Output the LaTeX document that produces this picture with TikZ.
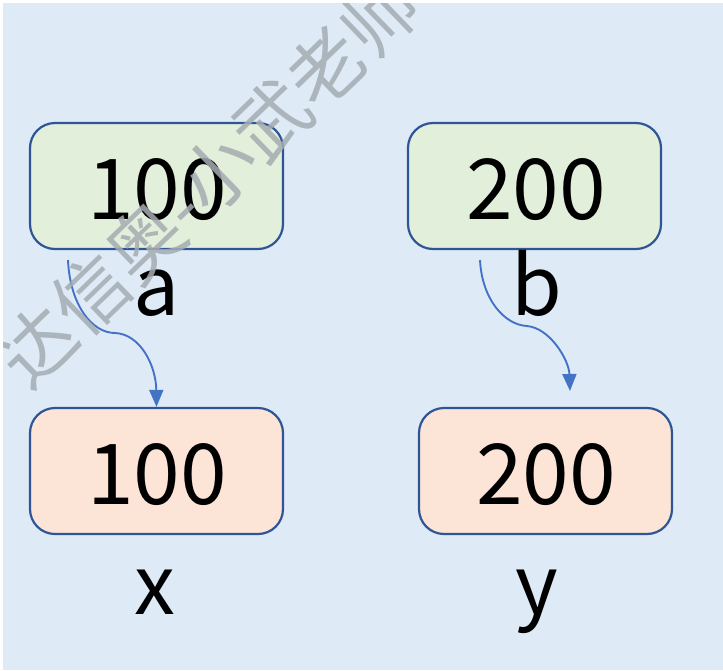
\documentclass[tikz,border=0pt]{standalone}
\usepackage{fontspec}
\setmainfont{Noto Sans CJK SC}
\usetikzlibrary{arrows.meta}
\definecolor{bgblue}{RGB}{222,235,247}
\definecolor{boxline}{RGB}{47,85,151}
\definecolor{greenfill}{RGB}{226,239,218}
\definecolor{orangefill}{RGB}{252,229,214}
\definecolor{arrowblue}{RGB}{68,114,196}
\definecolor{wmgray}{RGB}{165,172,178}
\begin{document}
\begin{tikzpicture}[x=1pt,y=-1pt,
  valbox/.style={draw=boxline, line width=2.2pt, rounded corners=25pt,
    minimum width=253pt, minimum height=126pt, inner sep=0pt},
  numtext/.style={font=\fontsize{84}{84}\selectfont, anchor=base, inner sep=0pt},
  nametext/.style={font=\fontsize{82}{82}\selectfont, anchor=base, inner sep=0pt},
  flow/.style={draw=arrowblue, line width=1.9pt, -{Triangle[length=17pt,width=14pt]}},
  wmark/.style={text=wmgray, font=\fontsize{75}{75}\selectfont, rotate=44, inner sep=0pt, opacity=0.85}]
\useasboundingbox (0,0) rectangle (723,670);
\fill[bgblue] (3,3) rectangle (723,670);
% boxes
\node[valbox, fill=greenfill] (boxa) at (156.5,186) {};
\node[valbox, fill=greenfill] (boxb) at (534.5,186) {};
\node[valbox, fill=orangefill] (boxx) at (156.5,471) {};
\node[valbox, fill=orangefill] (boxy) at (545.5,471) {};
% values
\node[numtext] (va) at (157,219) {100};
\node[numtext] (vb) at (536,219) {200};
\node[numtext] (vx) at (157,504) {100};
\node[numtext] (vy) at (546,504) {200};
% names
\node[nametext] (na) at (157,315) {a};
\node[nametext] (nb) at (537,315) {b};
\node[nametext] (nx) at (155,614) {x};
\node[nametext] (ny) at (537,614) {y};
% arrows
\coordinate (sa) at (68,260);
\coordinate (sb) at (480,260);
\coordinate (eb) at (570,391);
\draw[flow] (sa) .. controls (70,305) and (92,333) .. (115,333)
  .. controls (140,334) and (156,365) .. (boxx.north);
\draw[flow] (sb) .. controls (482,300) and (505,325) .. (527,326)
  .. controls (550,328) and (569,360) .. (eb);
% watermark
\begin{scope}
\clip (3,3) rectangle (723,670);
\node[wmark] (wm) at (208,181) {达信奥-小武老师};
\end{scope}
\end{tikzpicture}
\end{document}
